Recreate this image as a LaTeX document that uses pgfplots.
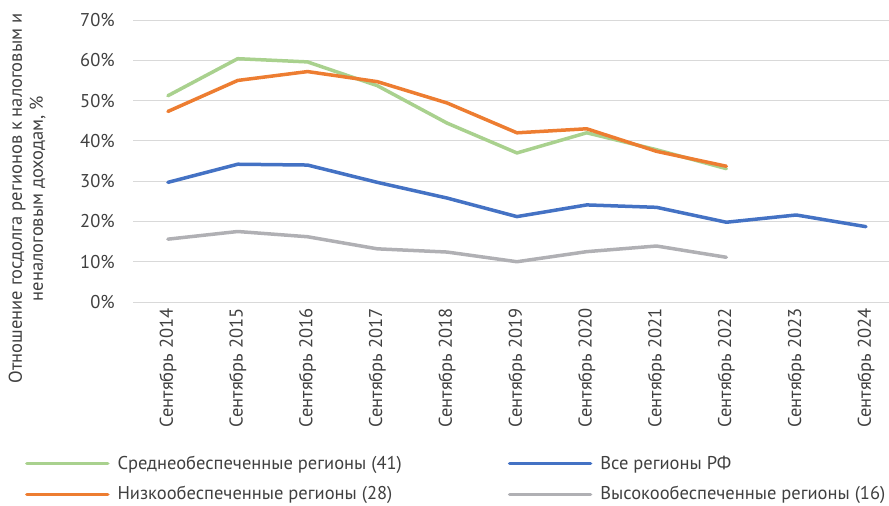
\documentclass[border=0pt]{standalone}
\usepackage{fontspec}
\setmainfont{PT Sans}
\usepackage{pgfplots}
\pgfplotsset{compat=1.18}
\definecolor{cgreen}{HTML}{A9D18E}
\definecolor{cblue}{HTML}{4472C4}
\definecolor{corange}{HTML}{ED7D31}
\definecolor{cgray}{HTML}{B0B0B4}
\definecolor{gridgray}{HTML}{D9D9D9}
\definecolor{txt}{HTML}{404040}
\begin{document}
\fontsize{18.5bp}{22bp}\selectfont
\begin{tikzpicture}
\path[use as bounding box] (0,0) rectangle (889bp,-506bp);
\begin{axis}[
  at={(133bp,-302bp)}, anchor=south west,
  width=756bp, height=282bp, scale only axis,
  xmin=-0.5, xmax=10.33, ymin=0, ymax=70,
  axis line style={draw=none},
  tick style={draw=none},
  ytick={0,10,...,70},
  yticklabels={0\%,10\%,20\%,30\%,40\%,50\%,60\%,70\%},
  xtick={0,...,10},
  xticklabels={Сентябрь 2014,Сентябрь 2015,Сентябрь 2016,Сентябрь 2017,Сентябрь 2018,Сентябрь 2019,Сентябрь 2020,Сентябрь 2021,Сентябрь 2022,Сентябрь 2023,Сентябрь 2024},
  xticklabel style={rotate=90, anchor=east, font=\fontsize{18.5bp}{22bp}\selectfont, text=txt},
  yticklabel style={font=\fontsize{18.5bp}{22bp}\selectfont, text=txt, xshift=-12bp},
  ymajorgrids, grid style={draw=gridgray, line width=1bp},
  ylabel={Отношение госдолга регионов к налоговым и\\неналоговым доходам, \%},
  ylabel style={at={(axis description cs:-0.14,0.367)}, anchor=center, rotate=0, align=center, font=\fontsize{18.5bp}{21bp}\selectfont, text=txt},
  legend columns=2,
  legend cell align=left,
  legend style={at={(axis description cs:-0.147,-0.53)}, anchor=north west, draw=none, fill=none,
    font=\fontsize{18.5bp}{22bp}\selectfont, text=txt,
    /tikz/every odd column/.append style={column sep=6bp},
    /tikz/every even column/.append style={column sep=104bp}, row sep=10.5bp},
  legend image code/.code={\draw[#1] (0bp,0bp) -- (81bp,0bp);},
  every axis plot/.append style={line width=3.5bp, line join=round, line cap=round},
]
\addplot[cgreen] coordinates {(0,51.2)(1,60.4)(2,59.6)(3,53.7)(4,44.4)(5,37.0)(6,42.0)(7,37.8)(8,33.1)};
\addlegendentry{Среднеобеспеченные регионы (41)}
\addplot[cblue] coordinates {(0,29.7)(1,34.2)(2,34.0)(3,29.7)(4,25.8)(5,21.2)(6,24.1)(7,23.5)(8,19.8)(9,21.6)(10,18.7)};
\addlegendentry{Все регионы РФ}
\addplot[corange] coordinates {(0,47.3)(1,55.0)(2,57.2)(3,54.7)(4,49.4)(5,42.0)(6,43.0)(7,37.4)(8,33.7)};
\addlegendentry{Низкообеспеченные регионы (28)}
\addplot[cgray] coordinates {(0,15.6)(1,17.5)(2,16.2)(3,13.2)(4,12.4)(5,10.0)(6,12.5)(7,13.9)(8,11.1)};
\addlegendentry{Высокообеспеченные регионы (16)}
\end{axis}
\end{tikzpicture}
\end{document}
